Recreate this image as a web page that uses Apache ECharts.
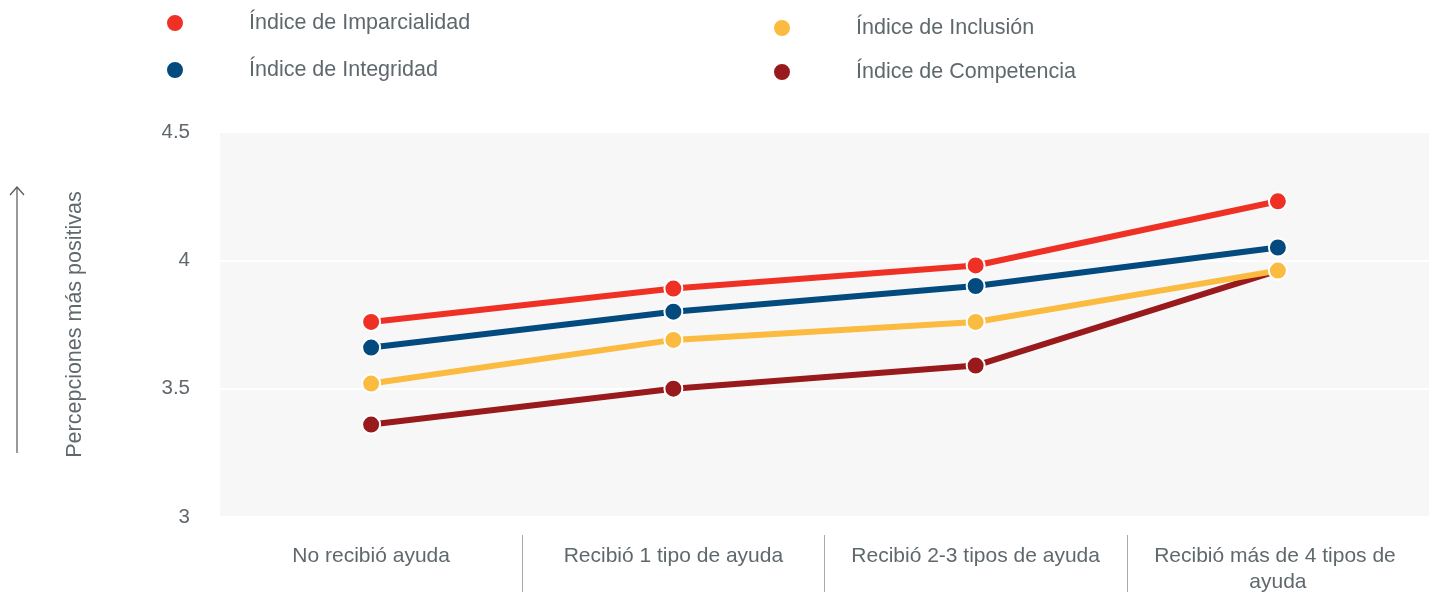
<!DOCTYPE html>
<html>
<head>
<meta charset="utf-8">
<script src="https://cdn.jsdelivr.net/npm/echarts@6/dist/echarts.min.js"></script>
<style>
  html, body { margin: 0; padding: 0; background: #fff; }
  #chart { width: 1429px; height: 592px; }
</style>
</head>
<body>
<div id="chart"></div>
<script>
const categories = ['No recibió ayuda', 'Recibió 1 tipo de ayuda', 'Recibió 2-3 tipos de ayuda', 'Recibió más de 4 tipos de ayuda'];
const imparcialidad = [3.76, 3.89, 3.98, 4.23];
const integridad = [3.66, 3.80, 3.90, 4.05];
const inclusion = [3.52, 3.69, 3.76, 3.96];
const competencia = [3.36, 3.50, 3.59, 3.96];
const yTicks = { min: 3, max: 4.5, interval: 0.5 };

const colors = {
  imparcialidad: '#ee3124',
  integridad: '#034a7e',
  inclusion: '#fbbb40',
  competencia: '#981a1d'
};

const font = '"Liberation Sans", Arial, sans-serif';
const textColor = '#5f696d';

const chart = echarts.init(document.getElementById('chart'));

const makeSeries = (name, data, color, z) => ({
  name: name,
  type: 'line',
  data: data,
  z: z,
  symbol: 'circle',
  symbolSize: 18,
  lineStyle: { color: color, width: 6 },
  itemStyle: { color: color, borderColor: '#fff', borderWidth: 2 },
  emphasis: { disabled: true }
});

const legendBase = {
  orient: 'vertical',
  icon: 'circle',
  itemWidth: 18,
  itemHeight: 18,
  textStyle: { fontFamily: font, fontSize: 21.5, color: textColor, padding: [2, 0, 0, 60], lineHeight: 20 }
};

const option = {
  animation: false,
  legend: [
    Object.assign({}, legendBase, {
      left: 160, top: 7, itemGap: 25,
      data: ['Índice de Imparcialidad', 'Índice de Integridad']
    }),
    Object.assign({}, legendBase, {
      left: 767, top: 12, itemGap: 22,
      data: ['Índice de Inclusión', 'Índice de Competencia']
    })
  ],
  grid: {
    left: 220, right: 0, top: 132, bottom: 75,
    outerBoundsMode: 'none',
    containLabel: false,
    show: true, backgroundColor: '#f7f7f7', borderWidth: 0
  },
  xAxis: {
    type: 'category',
    data: categories,
    offset: 18,
    axisLine: { show: false },
    axisTick: {
      show: true,
      length: 60,
      interval: (index) => index > 0,
      lineStyle: { color: '#a9a9a9', width: 1 }
    },
    axisLabel: {
      interval: 0,
      margin: 8,
      fontFamily: font,
      fontSize: 21,
      color: textColor,
      lineHeight: 26,
      width: 275,
      overflow: 'break'
    }
  },
  yAxis: {
    type: 'value',
    min: yTicks.min,
    max: yTicks.max,
    interval: yTicks.interval,
    name: 'Percepciones más positivas',
    nameLocation: 'middle',
    nameGap: 134,
    nameTextStyle: { fontFamily: font, fontSize: 21.5, color: textColor },
    axisLine: { show: false },
    axisTick: { show: false },
    axisLabel: { margin: 30, fontFamily: font, fontSize: 20.5, color: textColor },
    splitLine: { lineStyle: { color: '#ffffff', width: 2 } }
  },
  graphic: [
    {
      type: 'line',
      shape: { x1: 17, y1: 453, x2: 17, y2: 187 },
      style: { stroke: '#555', lineWidth: 1.2 }
    },
    {
      type: 'polyline',
      shape: { points: [[10, 195], [17, 187], [24, 195]] },
      style: { stroke: '#555', lineWidth: 1.2, fill: null }
    }
  ],
  series: [
    makeSeries('Índice de Competencia', competencia, colors.competencia, 2),
    makeSeries('Índice de Inclusión', inclusion, colors.inclusion, 3),
    makeSeries('Índice de Integridad', integridad, colors.integridad, 4),
    makeSeries('Índice de Imparcialidad', imparcialidad, colors.imparcialidad, 5)
  ]
};

chart.setOption(option);
</script>
</body>
</html>
